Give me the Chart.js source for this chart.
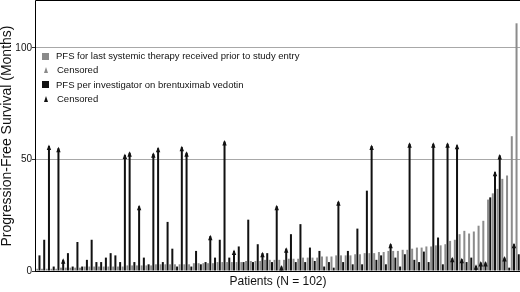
<!DOCTYPE html>
<html>
<head>
<meta charset="utf-8">
<script src="https://cdn.jsdelivr.net/npm/chart.js@4/dist/chart.umd.min.js"></script>
<style>
  html, body { margin: 0; padding: 0; background: #fff; }
  #wrap { position: relative; width: 520px; height: 292px; }
  #legend { position: absolute; left: 42px; top: 49px; font: 9.5px "Liberation Sans", Arial, sans-serif; color: #111; }
  #legend .row { height: 14.4px; line-height: 14.4px; white-space: nowrap; }
  #legend .sw { display: inline-block; width: 7px; height: 7px; margin-right: 7px; vertical-align: -0.5px; }
  #legend .arr { display: inline-block; width: 0; height: 0; margin: 0 9px 0 2px; border-left: 2px solid transparent; border-right: 2px solid transparent; vertical-align: 0px; }
</style>
</head>
<body>
<div id="wrap">
  <canvas id="pfsChart" width="520" height="292"></canvas>
  <div id="legend">
    <div class="row"><span class="sw" style="background:#8a8a8a"></span>PFS for last systemic therapy received prior to study entry</div>
    <div class="row"><span class="arr" style="border-bottom:6px solid #8a8a8a"></span>Censored</div>
    <div class="row"><span class="sw" style="background:#111"></span>PFS per investigator on brentuximab vedotin</div>
    <div class="row"><span class="arr" style="border-bottom:6px solid #111"></span>Censored</div>
  </div>
</div>
<script>
// months, one entry per patient (sorted roughly by prior-therapy PFS)
const priorPFS = [
  1, 1, 1, 1, 1, 1.5, 1.5, 1.5, 1.5, 1.5,
  2, 2, 2, 2, 2, 2, 2, 2, 2, 2.5,
  2.5, 2.5, 2.5, 2.5, 2.5, 3, 3, 3, 3, 3,
  3, 3, 3, 3.5, 3.5, 3.5, 3.5, 3.5, 4, 4,
  4, 4, 4, 4, 4.5, 4.5, 4.5, 4.5, 5, 5,
  5, 5, 5, 5.5, 5.5, 5.5, 6, 6, 6, 6,
  6.5, 6.5, 6.5, 7, 7, 7, 7, 7.5, 7.5, 8,
  8, 8, 8.5, 8.5, 9, 9, 9, 9.5, 9.5, 10,
  10.5, 10.5, 11, 11, 11.5, 11.5, 12, 13.5, 14, 16.5,
  18, 16.8, 17.7, 20.3, 22.5, 32, 34.8, 36.8, 41.3, 42.8,
  60.4, 111
];
const bvPFS = [
  7, 14, 56, 2, 55, 5, 8, 2, 13, 2,
  5, 14, 4, 4, 6, 8, 7, 4, 52, 53,
  4, 29, 6, 3, 52.5, 55, 4, 22, 10, 2,
  55.5, 53, 2, 9, 3, 4, 15.6, 6, 14, 58,
  6, 9, 11, 4, 23, 4, 12, 8, 8, 4,
  29, 2, 10, 16.5, 4, 21, 4, 10.5, 4.5, 9,
  2, 4, 1.5, 31, 4, 9, 3, 19, 3, 36,
  56, 5, 7, 3, 12, 6, 2, 7.5, 57, 5,
  4, 8.7, 4, 57, 15, 3, 57, 5.7, 56.3, 5.3,
  4, 6, 2.3, 3.8, 3.8, 33, 44.3, 51.8, 6, 1.5,
  12, 7.5
];
// 1 = censored
const priorCensored = new Array(102).fill(0);
const bvCensored = [
  0, 0, 1, 0, 1, 1, 0, 0, 0, 0,
  0, 0, 0, 0, 0, 0, 0, 0, 1, 1,
  0, 1, 0, 0, 1, 1, 0, 0, 0, 0,
  1, 1, 0, 0, 0, 0, 1, 0, 0, 1,
  0, 1, 0, 0, 0, 0, 0, 1, 0, 0,
  1, 1, 1, 0, 0, 0, 0, 0, 0, 0,
  0, 0, 0, 1, 0, 0, 0, 0, 0, 0,
  1, 0, 0, 0, 1, 0, 0, 0, 1, 0,
  0, 0, 0, 1, 0, 0, 1, 1, 1, 1,
  0, 0, 1, 1, 1, 0, 1, 1, 1, 0,
  1, 0
];
const patients = priorPFS.map((_, i) => String(i + 1));
const yTicks = [0, 50, 100];

const censorPlugin = {
  id: 'censorArrows',
  afterDatasetsDraw(chart) {
    const ctx = chart.ctx;
    const sets = [[0, priorCensored, '#8a8a8a'], [1, bvCensored, '#111']];
    ctx.save();
    sets.forEach(([d, flags, col]) => {
      const meta = chart.getDatasetMeta(d);
      flags.forEach((f, i) => {
        if (!f) return;
        const b = meta.data[i];
        ctx.beginPath();
        ctx.moveTo(b.x - 2.2, b.y + 4);
        ctx.lineTo(b.x, b.y - 1.5);
        ctx.lineTo(b.x + 2.2, b.y + 4);
        ctx.closePath();
        ctx.fillStyle = col;
        ctx.fill();
      });
    });
    // frame: left, bottom, top
    const a = chart.chartArea;
    ctx.strokeStyle = '#000';
    ctx.lineWidth = 1;
    ctx.beginPath();
    ctx.moveTo(a.right, a.top - 0.5);
    ctx.lineTo(a.left - 0.5, a.top - 0.5);
    ctx.lineTo(a.left - 0.5, a.bottom + 0.5);
    ctx.lineTo(a.right, a.bottom + 0.5);
    ctx.stroke();
    ctx.restore();
  }
};

new Chart(document.getElementById('pfsChart'), {
  type: 'bar',
  data: {
    labels: patients,
    datasets: [
      { label: 'PFS for last systemic therapy received prior to study entry', data: priorPFS, backgroundColor: '#8c8c8c' },
      { label: 'PFS per investigator on brentuximab vedotin', data: bvPFS, backgroundColor: '#111' }
    ]
  },
  options: {
    responsive: false,
    animation: false,
    devicePixelRatio: 1,
    categoryPercentage: 0.92,
    barPercentage: 0.92,
    layout: { padding: { top: 1, right: 0, left: 0, bottom: 0 } },
    plugins: { legend: { display: false }, tooltip: { enabled: false } },
    scales: {
      x: {
        grid: { display: false },
        border: { display: false },
        ticks: { display: false },
        title: {
          display: true, text: 'Patients (N = 102)', color: '#111',
          font: { family: 'Liberation Sans', size: 12, lineHeight: 1 }, padding: { top: 0, bottom: 4 }
        },
        afterFit(s) { s.height = 21; s.paddingLeft = 0; s.paddingRight = 0; }
      },
      y: {
        min: 0, max: 121,
        afterBuildTicks(axis) { axis.ticks = yTicks.map(v => ({ value: v })); },
        grid: { color: '#a8a8a8', tickColor: '#333', tickLength: 4 },
        border: { display: false },
        ticks: { color: '#111', padding: 0, font: { family: 'Liberation Sans', size: 10 } },
        title: {
          display: true, text: 'Progression-Free Survival (Months)', color: '#111',
          font: { family: 'Liberation Sans', size: 14, lineHeight: 1 }, padding: { top: 0, bottom: 0 }
        },
        afterFit(s) { s.width = 36; s.paddingTop = 0; s.paddingBottom = 0; }
      }
    }
  },
  plugins: [censorPlugin]
});
</script>
</body>
</html>
